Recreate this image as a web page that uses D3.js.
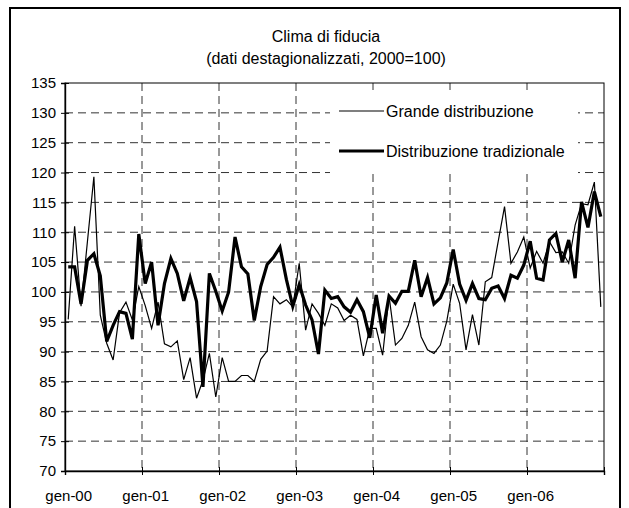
<!DOCTYPE html>
<html>
<head>
<meta charset="utf-8">
<script src="https://cdn.jsdelivr.net/npm/d3@7/dist/d3.min.js"></script>
<style>
    body { margin: 0; background: #fff; }
    svg text { font-family: 'Liberation Sans', Arial, sans-serif; fill: #000; }
</style>
</head>
<body>
<div id="chart"></div>
<script>
const TITLE_LINES = ['Clima di fiducia', '(dati destagionalizzati, 2000=100)'];
const SERIES_NAMES = ['Grande distribuzione', 'Distribuzione tradizionale'];
const YEAR_LABELS = ['gen-00', 'gen-01', 'gen-02', 'gen-03', 'gen-04', 'gen-05', 'gen-06'];
const Y_TICKS = [70, 75, 80, 85, 90, 95, 100, 105, 110, 115, 120, 125, 130, 135];

// monthly values, gen-00 .. dic-06
const GRANDE = [
    95.4, 111.0, 97.6, 108.5, 119.3, 96.1, 91.4, 88.6, 96.5, 98.3, 95.3, 100.9,
    97.7, 93.9, 98.3, 91.3, 90.8, 91.8, 85.3, 89.0, 82.2, 85.2, 89.7, 82.4,
    89.0, 85.0, 85.0, 86.0, 86.0, 85.0, 88.7, 90.1, 99.2, 98.0, 98.7, 97.5,
    104.8, 93.6, 98.0, 96.4, 94.4, 98.0, 97.3, 95.2, 96.1, 95.4, 89.3, 93.9,
    93.9, 89.4, 99.3, 91.1, 92.2, 94.4, 98.3, 92.5, 90.3, 89.7, 91.1, 95.1,
    101.3, 98.1, 90.3, 96.2, 91.1, 101.7, 102.4, 108.4, 114.3, 104.8, 106.7, 109.2,
    104.0, 106.8, 104.8, 108.4, 106.6, 106.7, 104.8, 111.2, 114.8, 114.6, 118.4, 97.5
];
const TRADIZIONALE = [
    104.2, 104.2, 98.0, 105.3, 106.4, 102.7, 91.7, 94.4, 96.7, 96.4, 92.1, 109.7,
    101.4, 105.0, 94.4, 101.4, 105.6, 103.1, 98.5, 102.4, 98.4, 84.1, 103.1, 100.1,
    96.8, 100.0, 109.2, 104.2, 103.0, 95.2, 100.9, 104.6, 105.8, 107.5, 102.1, 97.6,
    101.2, 97.8, 95.3, 89.6, 100.3, 98.9, 99.2, 97.5, 96.6, 98.7, 96.7, 92.3,
    99.5, 93.1, 99.3, 98.1, 100.1, 100.1, 105.3, 99.2, 102.4, 98.0, 99.0, 101.5,
    107.1, 101.3, 98.6, 101.4, 98.9, 98.7, 100.6, 101.0, 98.9, 102.8, 102.3, 104.5,
    108.5, 102.3, 102.0, 108.7, 109.8, 105.0, 108.7, 102.3, 115.1, 110.8, 116.8, 112.6
];

const initChart = () => {
    const W = 629;
    const H = 508;
    const margin = { top: 83, right: 25, bottom: 37, left: 65 };
    const width = W - margin.left - margin.right;
    const height = H - margin.top - margin.bottom;
    const nMonths = GRANDE.length;

    const svg = d3
        .select('#chart')
        .append('svg')
        .attr('width', W)
        .attr('height', H);

    // outer frame
    svg.append('rect')
        .attr('x', 10)
        .attr('y', 8)
        .attr('width', 610)
        .attr('height', 520)
        .attr('fill', 'none')
        .attr('stroke', '#000')
        .attr('stroke-width', 2);

    svg.selectAll('.title')
        .data(TITLE_LINES)
        .enter()
        .append('text')
        .attr('class', 'title')
        .attr('x', 326)
        .attr('y', (d, i) => 42 + i * 22)
        .attr('text-anchor', 'middle')
        .style('font-size', '16px')
        .text((d) => d);

    const g = svg
        .append('g')
        .attr('transform', 'translate(' + margin.left + ',' + margin.top + ')');

    // x scale on month edges, points sit in the middle of each month
    const x = d3.scaleLinear().domain([0, nMonths]).range([0, width]);
    const y = d3.scaleLinear().domain([70, 135]).range([height, 0]);

    const yearEdges = d3.range(0, nMonths + 1, 12);

    // horizontal grid
    g.append('g')
        .selectAll('line')
        .data(Y_TICKS.filter((v) => v > 70 && v < 135))
        .enter()
        .append('line')
        .attr('x1', 0)
        .attr('x2', width)
        .attr('y1', (d) => y(d))
        .attr('y2', (d) => y(d))
        .attr('stroke', '#333')
        .attr('stroke-dasharray', '8,5');

    // vertical grid
    g.append('g')
        .selectAll('line')
        .data(yearEdges.filter((m) => m > 0 && m < nMonths))
        .enter()
        .append('line')
        .attr('x1', (d) => x(d))
        .attr('x2', (d) => x(d))
        .attr('y1', 0)
        .attr('y2', height)
        .attr('stroke', '#333')
        .attr('stroke-dasharray', '8,5');

    // plot frame
    g.append('rect')
        .attr('width', width)
        .attr('height', height)
        .attr('fill', 'none')
        .attr('stroke', '#000')
        .attr('stroke-width', 1);

    // y axis
    const yAxis = d3.axisLeft(y).tickValues(Y_TICKS).tickSize(4).tickPadding(5);
    const yAx = g.append('g').call(yAxis);
    yAx.select('.domain').attr('stroke-width', 1.4);
    yAx.selectAll('.tick line').attr('x1', 4).attr('x2', -4);
    yAx.selectAll('text')
        .style('font-size', '15px')
        .style('font-family', "'Liberation Sans', Arial, sans-serif");

    // x axis: ticks on year edges, labels on january
    const xAxis = d3
        .axisBottom(x)
        .tickValues(yearEdges)
        .tickSize(4)
        .tickFormat('');
    const xAx = g
        .append('g')
        .attr('transform', 'translate(0,' + height + ')')
        .call(xAxis);
    xAx.select('.domain').attr('stroke-width', 1.4);
    xAx.selectAll('.tick line').attr('y1', -4).attr('y2', 4);

    const xLabels = d3
        .axisBottom(x)
        .tickValues(YEAR_LABELS.map((d, i) => i * 12 + 0.5))
        .tickSize(0)
        .tickPadding(19)
        .tickFormat((d, i) => YEAR_LABELS[i]);
    const xl = g
        .append('g')
        .attr('transform', 'translate(0,' + height + ')')
        .call(xLabels);
    xl.select('.domain').remove();
    xl.selectAll('text')
        .style('font-size', '15px')
        .style('font-family', "'Liberation Sans', Arial, sans-serif");

    // legend box hides the grid behind it
    const legend = g.append('g').attr('transform', 'translate(265,7)');
    legend
        .append('rect')
        .attr('width', 248)
        .attr('height', 84)
        .attr('fill', '#fff');

    const lineWidths = [1.2, 3.2];
    const seriesData = [GRANDE, TRADIZIONALE];

    legend
        .selectAll('.entry')
        .data(SERIES_NAMES)
        .enter()
        .append('g')
        .attr('class', 'entry')
        .attr('transform', (d, i) => 'translate(9,' + (21 + i * 40) + ')')
        .each(function (d, i) {
            const e = d3.select(this);
            e.append('line')
                .attr('x1', 0)
                .attr('x2', 45)
                .attr('stroke', '#000')
                .attr('stroke-width', lineWidths[i]);
            e.append('text')
                .attr('x', 47)
                .attr('y', 6)
                .style('font-size', '16px')
                .text(d);
        });

    const line = d3
        .line()
        .x((d, i) => x(i + 0.5))
        .y((d) => y(d));

    g.selectAll('.series')
        .data(seriesData)
        .enter()
        .append('path')
        .attr('class', 'series')
        .attr('d', (d) => line(d))
        .attr('fill', 'none')
        .attr('stroke', '#000')
        .attr('stroke-linejoin', 'miter')
        .attr('stroke-width', (d, i) => lineWidths[i]);
};

document.addEventListener('DOMContentLoaded', initChart);
</script>
</body>
</html>
